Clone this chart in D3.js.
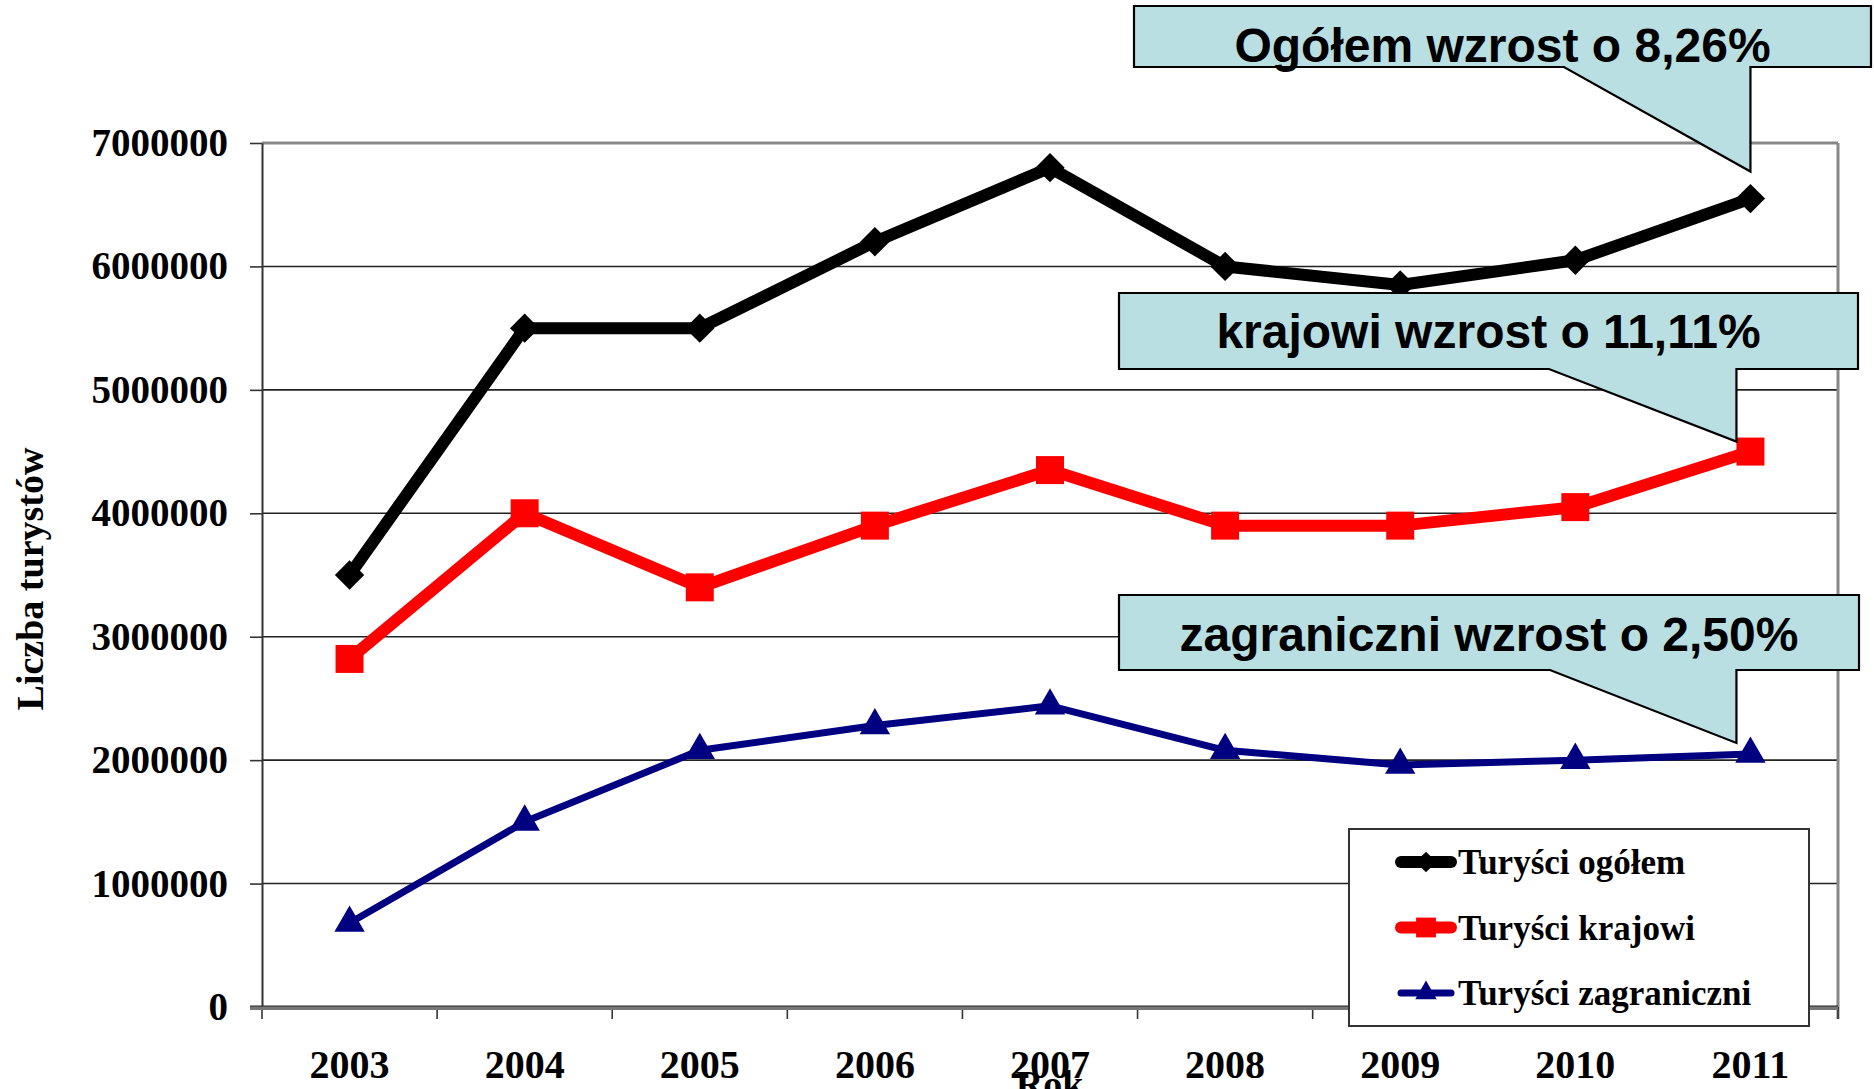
<!DOCTYPE html>
<html>
<head>
<meta charset="utf-8">
<script src="https://cdn.jsdelivr.net/npm/d3@7"></script>
<style>
  body { margin: 0; background: #fff; }
  svg { display: block; }
</style>
</head>
<body>
<div id="chart"></div>
<script>
// data
var years = ["2003", "2004", "2005", "2006", "2007", "2008", "2009", "2010", "2011"];
var ogolem = [3500000, 5500000, 5500000, 6200000, 6800000, 6000000, 5850000, 6050000, 6550000];
var krajowi = [2820000, 4000000, 3400000, 3900000, 4350000, 3900000, 3900000, 4050000, 4500000];
var zagraniczni = [680000, 1500000, 2080000, 2280000, 2440000, 2080000, 1960000, 2000000, 2050000];
var yTicks = [0, 1000000, 2000000, 3000000, 4000000, 5000000, 6000000, 7000000];
var seriesNames = ["Turyści ogółem", "Turyści krajowi", "Turyści zagraniczni"];
var calloutTexts = ["Ogółem wzrost o 8,26%", "krajowi wzrost o 11,11%", "zagraniczni wzrost o 2,50%"];

var W = 1874, H = 1089;
// plot area edges
var plotL = 262, plotR = 1838, plotT = 143, plotB = 1007;

var svg = d3.select("#chart").append("svg")
    .attr("width", W)
    .attr("height", H);

svg.append("rect").attr("width", W).attr("height", H).attr("fill", "#fff");

// scales
var xBand = d3.scaleBand().domain(years).range([plotL, plotR]);
var x = function(d) { return xBand(d) + xBand.bandwidth() / 2; };
var y = d3.scaleLinear().domain([0, 7000000]).range([plotB, plotT]);

// gridlines
svg.append("g").selectAll("line")
    .data(yTicks.filter(function(d) { return d > 0 && d < 7000000; }))
  .enter().append("line")
    .attr("x1", plotL).attr("x2", plotR)
    .attr("y1", function(d) { return y(d); })
    .attr("y2", function(d) { return y(d); })
    .attr("stroke", "#222")
    .attr("stroke-width", 1.6);

// frame: top and right in grey
svg.append("line")
    .attr("x1", plotL).attr("x2", plotR).attr("y1", plotT).attr("y2", plotT)
    .attr("stroke", "#888").attr("stroke-width", 3);
svg.append("line")
    .attr("x1", plotR).attr("x2", plotR).attr("y1", plotT).attr("y2", plotB + 12)
    .attr("stroke", "#888").attr("stroke-width", 3);

// y axis
var yAxis = svg.append("g")
    .attr("transform", "translate(" + plotL + ",0)")
    .call(d3.axisLeft(y).tickValues(yTicks).tickFormat(d3.format("d")).tickSize(12).tickPadding(22).tickSizeOuter(0));
yAxis.select(".domain").attr("stroke", "#333").attr("stroke-width", 2);
yAxis.selectAll(".tick line").attr("stroke", "#333").attr("stroke-width", 1.6);
yAxis.selectAll("text")
    .attr("fill", "#000")
    .style("font-family", "'Liberation Serif', 'Times New Roman', serif")
    .style("font-weight", "bold")
    .style("font-size", "39px");

// x axis: labels from the band scale, ticks at band edges
var xAxis = svg.append("g")
    .attr("transform", "translate(0," + plotB + ")")
    .call(d3.axisBottom(xBand).tickSize(0).tickSizeOuter(0));
xAxis.select(".domain").remove();
xAxis.selectAll("text")
    .attr("y", 71).attr("dy", 0)
    .attr("fill", "#000")
    .style("font-family", "'Liberation Serif', 'Times New Roman', serif")
    .style("font-weight", "bold")
    .style("font-size", "40px");

var edges = years.map(function(d) { return xBand(d); }).concat([plotR]);
svg.append("g").selectAll("line")
    .data(edges)
  .enter().append("line")
    .attr("x1", function(d) { return d; }).attr("x2", function(d) { return d; })
    .attr("y1", plotB).attr("y2", plotB + 12)
    .attr("stroke", "#333").attr("stroke-width", 1.6);

// baseline at zero
svg.append("line")
    .attr("x1", plotL - 12).attr("x2", plotR).attr("y1", y(0) + 1).attr("y2", y(0) + 1)
    .attr("stroke", "#777").attr("stroke-width", 4);
svg.append("line")
    .attr("x1", plotL - 12).attr("x2", plotR).attr("y1", y(0) - 1).attr("y2", y(0) - 1)
    .attr("stroke", "#222").attr("stroke-width", 1.2);

// axis titles
svg.append("text")
    .attr("transform", "translate(43,579) rotate(-90)")
    .attr("text-anchor", "middle")
    .style("font-family", "'Liberation Serif', 'Times New Roman', serif")
    .style("font-weight", "bold")
    .style("font-size", "38px")
    .text("Liczba turystów");

svg.append("text")
    .attr("x", (plotL + plotR) / 2 - 0.5)
    .attr("y", 1097)
    .attr("text-anchor", "middle")
    .style("font-family", "'Liberation Serif', 'Times New Roman', serif")
    .style("font-weight", "bold")
    .style("font-size", "38px")
    .text("Rok");

// lines
var series = [
  {name: seriesNames[0], values: ogolem, color: "#000", width: 12, marker: d3.symbolSquare, size: 430, rot: 45},
  {name: seriesNames[1], values: krajowi, color: "#ff0000", width: 12, marker: d3.symbolSquare, size: 784, rot: 0},
  {name: seriesNames[2], values: zagraniczni, color: "#000080", width: 7, marker: d3.symbolTriangle, size: 400, rot: 0}
];

var line = d3.line()
    .x(function(d, i) { return x(years[i]); })
    .y(function(d) { return y(d); });

series.forEach(function(s) {
  svg.append("path")
      .datum(s.values)
      .attr("fill", "none")
      .attr("stroke", s.color)
      .attr("stroke-width", s.width)
      .attr("stroke-linejoin", "round")
      .attr("d", line);

  svg.append("g").selectAll("path")
      .data(s.values)
    .enter().append("path")
      .attr("transform", function(d, i) {
        return "translate(" + x(years[i]) + "," + y(d) + ") rotate(" + s.rot + ")";
      })
      .attr("d", d3.symbol().type(s.marker).size(s.size))
      .attr("fill", s.color);
});

// callouts pointing at the 2011 values
var callouts = [
  {text: calloutTexts[0], x0: 1134, x1: 1871, y0: 6, y1: 67, base: 1564, value: ogolem[8], dx: 0, off: 27, baseline: 62},
  {text: calloutTexts[1], x0: 1119, x1: 1858, y0: 293, y1: 369, base: 1549, value: krajowi[8], dx: -14, off: 10, baseline: 348},
  {text: calloutTexts[2], x0: 1119, x1: 1859, y0: 595, y1: 670, base: 1550, value: zagraniczni[8], dx: -14, off: 11, baseline: 651}
];

callouts.forEach(function(c) {
  var tx = x(years[8]) + c.dx, ty = y(c.value) - c.off;
  var pts = [[c.x0, c.y0], [c.x1, c.y0], [c.x1, c.y1], [tx, c.y1], [tx, ty], [c.base, c.y1], [c.x0, c.y1]];
  svg.append("path")
      .attr("d", "M" + pts.join("L") + "Z")
      .attr("fill", "#b9dfe2")
      .attr("stroke", "#000")
      .attr("stroke-width", 2.2)
      .attr("stroke-linejoin", "miter");
  svg.append("text")
      .attr("x", (c.x0 + c.x1) / 2)
      .attr("y", c.baseline)
      .attr("text-anchor", "middle")
      .style("font-family", "'Liberation Sans', Arial, sans-serif")
      .style("font-weight", "bold")
      .style("font-size", "48px")
      .text(c.text);
});

// legend
var legend = svg.append("g");
legend.append("rect")
    .attr("x", 1349).attr("y", 829)
    .attr("width", 460).attr("height", 197)
    .attr("fill", "#fff")
    .attr("stroke", "#333")
    .attr("stroke-width", 2);

var ly = d3.scalePoint().domain(seriesNames).range([862, 993]);
series.forEach(function(s) {
  var g = legend.append("g").attr("transform", "translate(0," + ly(s.name) + ")");
  g.append("line")
      .attr("x1", 1401).attr("x2", 1451)
      .attr("stroke", s.color)
      .attr("stroke-width", s.width)
      .attr("stroke-linecap", "round");
  g.append("path")
      .attr("transform", "translate(1426,0) rotate(" + s.rot + ")")
      .attr("d", d3.symbol().type(s.marker).size(s.size * 0.5))
      .attr("fill", s.color);
  g.append("text")
      .attr("x", 1458)
      .attr("y", 12)
      .style("font-family", "'Liberation Serif', 'Times New Roman', serif")
      .style("font-weight", "bold")
      .style("font-size", "35px")
      .text(s.name);
});
</script>
</body>
</html>
